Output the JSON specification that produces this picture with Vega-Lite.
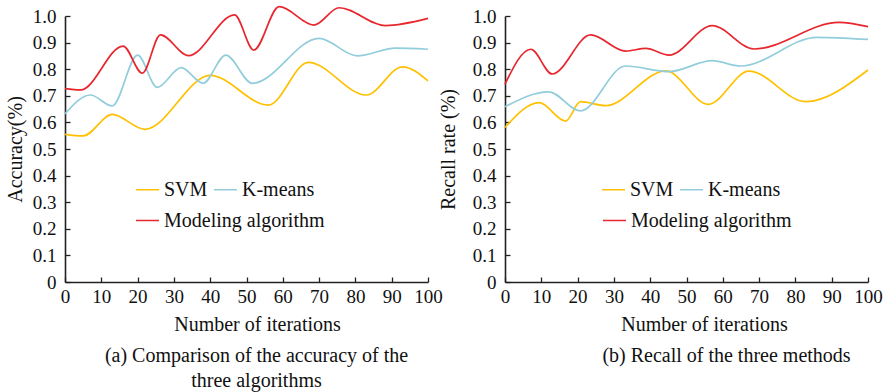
{
  "$schema": "https://vega.github.io/schema/vega-lite/v6.json",
  "padding": {"left": 5, "top": 3, "right": 5, "bottom": 5},
  "background": "white",
  "bounds": "flush",
  "spacing": 77,
  "datasets": {
    "acc": [
      {"iter": 0, "value": 0.555, "method": "SVM"},
      {"iter": 5, "value": 0.549, "method": "SVM"},
      {"iter": 13, "value": 0.630, "method": "SVM"},
      {"iter": 22, "value": 0.574, "method": "SVM"},
      {"iter": 40, "value": 0.777, "method": "SVM"},
      {"iter": 56, "value": 0.665, "method": "SVM"},
      {"iter": 67, "value": 0.826, "method": "SVM"},
      {"iter": 83, "value": 0.703, "method": "SVM"},
      {"iter": 93, "value": 0.809, "method": "SVM"},
      {"iter": 100, "value": 0.756, "method": "SVM"},
      {"iter": 0, "value": 0.632, "method": "K-means"},
      {"iter": 7, "value": 0.703, "method": "K-means"},
      {"iter": 13, "value": 0.662, "method": "K-means"},
      {"iter": 20, "value": 0.853, "method": "K-means"},
      {"iter": 25.4, "value": 0.732, "method": "K-means"},
      {"iter": 32, "value": 0.806, "method": "K-means"},
      {"iter": 38, "value": 0.747, "method": "K-means"},
      {"iter": 44.3, "value": 0.853, "method": "K-means"},
      {"iter": 51.6, "value": 0.747, "method": "K-means"},
      {"iter": 70, "value": 0.916, "method": "K-means"},
      {"iter": 80.5, "value": 0.850, "method": "K-means"},
      {"iter": 91, "value": 0.879, "method": "K-means"},
      {"iter": 100, "value": 0.875, "method": "K-means"},
      {"iter": 0, "value": 0.727, "method": "Modeling algorithm"},
      {"iter": 4.3, "value": 0.722, "method": "Modeling algorithm"},
      {"iter": 16, "value": 0.887, "method": "Modeling algorithm"},
      {"iter": 21.3, "value": 0.785, "method": "Modeling algorithm"},
      {"iter": 26.3, "value": 0.929, "method": "Modeling algorithm"},
      {"iter": 34, "value": 0.851, "method": "Modeling algorithm"},
      {"iter": 46.7, "value": 1.004, "method": "Modeling algorithm"},
      {"iter": 52, "value": 0.872, "method": "Modeling algorithm"},
      {"iter": 59, "value": 1.035, "method": "Modeling algorithm"},
      {"iter": 68.6, "value": 0.966, "method": "Modeling algorithm"},
      {"iter": 75.5, "value": 1.031, "method": "Modeling algorithm"},
      {"iter": 88.3, "value": 0.964, "method": "Modeling algorithm"},
      {"iter": 100, "value": 0.991, "method": "Modeling algorithm"}
    ],
    "rec": [
      {"iter": 0, "value": 0.581, "method": "SVM"},
      {"iter": 9.4, "value": 0.674, "method": "SVM"},
      {"iter": 16.7, "value": 0.605, "method": "SVM"},
      {"iter": 20.8, "value": 0.678, "method": "SVM"},
      {"iter": 27.7, "value": 0.663, "method": "SVM"},
      {"iter": 44.3, "value": 0.794, "method": "SVM"},
      {"iter": 56, "value": 0.668, "method": "SVM"},
      {"iter": 67.2, "value": 0.793, "method": "SVM"},
      {"iter": 82.8, "value": 0.678, "method": "SVM"},
      {"iter": 100, "value": 0.797, "method": "SVM"},
      {"iter": 0, "value": 0.659, "method": "K-means"},
      {"iter": 12, "value": 0.715, "method": "K-means"},
      {"iter": 20.8, "value": 0.643, "method": "K-means"},
      {"iter": 33.2, "value": 0.812, "method": "K-means"},
      {"iter": 45.2, "value": 0.791, "method": "K-means"},
      {"iter": 57.1, "value": 0.832, "method": "K-means"},
      {"iter": 64.9, "value": 0.812, "method": "K-means"},
      {"iter": 86, "value": 0.920, "method": "K-means"},
      {"iter": 100, "value": 0.912, "method": "K-means"},
      {"iter": 0, "value": 0.744, "method": "Modeling algorithm"},
      {"iter": 7.1, "value": 0.875, "method": "Modeling algorithm"},
      {"iter": 13, "value": 0.782, "method": "Modeling algorithm"},
      {"iter": 23.6, "value": 0.929, "method": "Modeling algorithm"},
      {"iter": 33.2, "value": 0.868, "method": "Modeling algorithm"},
      {"iter": 38.8, "value": 0.878, "method": "Modeling algorithm"},
      {"iter": 45.2, "value": 0.853, "method": "Modeling algorithm"},
      {"iter": 57.1, "value": 0.964, "method": "Modeling algorithm"},
      {"iter": 68.6, "value": 0.876, "method": "Modeling algorithm"},
      {"iter": 92, "value": 0.976, "method": "Modeling algorithm"},
      {"iter": 100, "value": 0.960, "method": "Modeling algorithm"}
    ]
  },
  "hconcat": [
    {
      "width": 363,
      "height": 266,
      "data": {"name": "acc"},
      "title": {
        "text": ["(a) Comparison of the accuracy of the", "three algorithms"],
        "orient": "bottom",
        "anchor": "middle",
        "dx": 10,
        "offset": 12,
        "lineHeight": 25,
        "font": "Liberation Serif"
      },
      "encoding": {
        "x": {
          "field": "iter", "type": "quantitative",
          "scale": {"domain": [0, 100], "nice": false},
          "axis": {"title": "Number of iterations", "values": [0,10,20,30,40,50,60,70,80,90,100], "titleX": 192, "titleY": 42, "labelPadding": 10, "labelFont": "Liberation Serif", "titleFont": "Liberation Serif"}
        },
        "y": {
          "field": "value", "type": "quantitative",
          "scale": {"domain": [0, 1], "nice": false},
          "axis": {"title": "Accuracy(%)", "values": [0,0.1,0.2,0.3,0.4,0.5,0.6,0.7,0.8,0.9,1.0], "labelExpr": "datum.value == 0 ? '0' : format(datum.value, '.1f')", "titleX": -43.5, "titleY": 133, "labelFont": "Liberation Serif", "titleFont": "Liberation Serif"}
        }
      },
      "layer": [
        {
          "transform": [{"filter": "datum.method != 'Modeling algorithm'"}],
          "mark": {"type": "line", "interpolate": "monotone", "strokeWidth": 1.7},
          "encoding": {
            "color": {
              "field": "method", "type": "nominal",
              "scale": {"domain": ["SVM", "K-means"], "range": ["#FFC000", "#92CDDC"]},
              "legend": {"title": null, "legendX": 70, "legendY": 161, "direction": "horizontal", "labelFont": "Liberation Serif"}
            }
          }
        },
        {
          "transform": [{"filter": "datum.method == 'Modeling algorithm'"}],
          "mark": {"type": "line", "interpolate": "monotone", "strokeWidth": 1.7},
          "encoding": {
            "stroke": {
              "field": "method", "type": "nominal",
              "scale": {"domain": ["Modeling algorithm"], "range": ["#E8262E"]},
              "legend": {"title": null, "legendX": 70, "legendY": 192, "direction": "horizontal", "labelFont": "Liberation Serif"}
            }
          }
        }
      ]
    },
    {
      "width": 363,
      "height": 266,
      "data": {"name": "rec"},
      "title": {
        "text": "(b) Recall of the three methods",
        "orient": "bottom",
        "anchor": "middle",
        "dx": 40,
        "offset": 12,
        "font": "Liberation Serif"
      },
      "encoding": {
        "x": {
          "field": "iter", "type": "quantitative",
          "scale": {"domain": [0, 100], "nice": false},
          "axis": {"title": "Number of iterations", "values": [0,10,20,30,40,50,60,70,80,90,100], "titleX": 199, "titleY": 42, "labelPadding": 10, "labelFont": "Liberation Serif", "titleFont": "Liberation Serif"}
        },
        "y": {
          "field": "value", "type": "quantitative",
          "scale": {"domain": [0, 1], "nice": false},
          "axis": {"title": "Recall rate (%)", "values": [0,0.1,0.2,0.3,0.4,0.5,0.6,0.7,0.8,0.9,1.0], "labelExpr": "datum.value == 0 ? '0' : format(datum.value, '.1f')", "titleX": -50.5, "titleY": 133, "labelFont": "Liberation Serif", "titleFont": "Liberation Serif"}
        }
      },
      "layer": [
        {
          "transform": [{"filter": "datum.method != 'Modeling algorithm'"}],
          "mark": {"type": "line", "interpolate": "monotone", "strokeWidth": 1.7},
          "encoding": {
            "color": {
              "field": "method", "type": "nominal",
              "scale": {"domain": ["SVM", "K-means"], "range": ["#FFC000", "#92CDDC"]},
              "legend": {"title": null, "legendX": 96, "legendY": 161, "direction": "horizontal", "labelFont": "Liberation Serif"}
            }
          }
        },
        {
          "transform": [{"filter": "datum.method == 'Modeling algorithm'"}],
          "mark": {"type": "line", "interpolate": "monotone", "strokeWidth": 1.7},
          "encoding": {
            "stroke": {
              "field": "method", "type": "nominal",
              "scale": {"domain": ["Modeling algorithm"], "range": ["#E8262E"]},
              "legend": {"title": null, "legendX": 97, "legendY": 192, "direction": "horizontal", "labelFont": "Liberation Serif"}
            }
          }
        }
      ]
    }
  ],
  "resolve": {"legend": {"color": "independent", "stroke": "independent"}, "scale": {"color": "independent", "stroke": "independent"}},
  "config": {
    "font": "Liberation Serif",
    "view": {"stroke": null},
    "axis": {
      "grid": false,
      "domainColor": "#222222",
      "domainWidth": 1.6,
      "tickColor": "#222222",
      "tickWidth": 1.3,
      "tickSize": -5,
      "labelPadding": 14,
      "labelFontSize": 19,
      "labelColor": "#111111",
      "titleFontSize": 20,
      "titleFontWeight": "normal",
      "titleColor": "#111111",
      "labelFlush": false,
      "labelOverlap": false
    },
    "axisX": {"titleBaseline": "middle", "titleAlign": "center"},
    "axisY": {"titleBaseline": "alphabetic", "titleAlign": "center", "titleAngle": -90},
    "legend": {
      "orient": "none",
      "symbolType": "stroke",
      "symbolSize": 529,
      "symbolStrokeWidth": 1.5,
      "labelFontSize": 20,
      "labelColor": "#111111",
      "labelLimit": 400,
      "labelOffset": 4,
      "columnPadding": 3,
      "rowPadding": 8,
      "padding": 0
    },
    "title": {
      "fontSize": 20,
      "fontWeight": "normal",
      "color": "#111111"
    }
  }
}
